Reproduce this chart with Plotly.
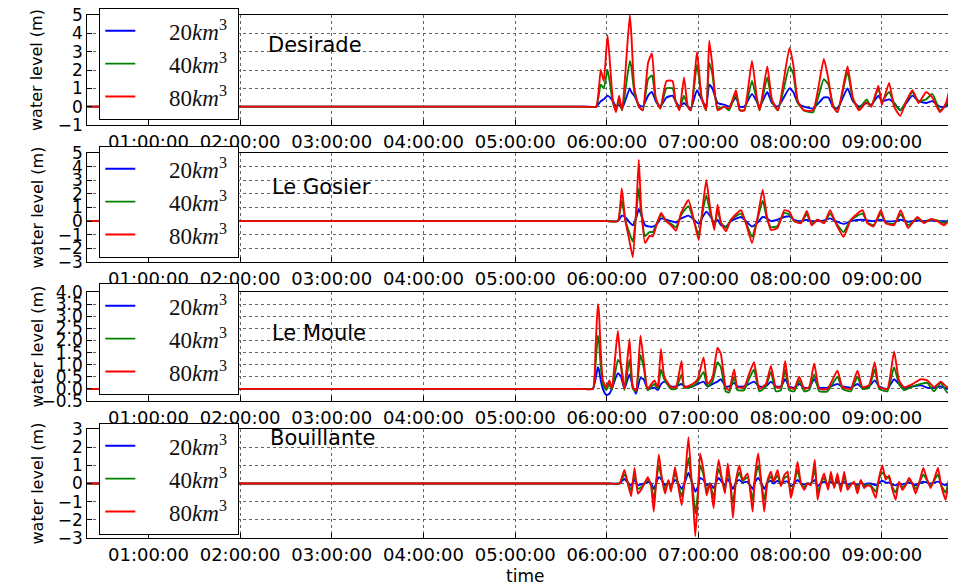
import plotly.graph_objects as go
import pandas as pd

# ---------------- data (time in minutes after 00:00, water level in m) ----------------
series_names = ["20<i>km</i><sup>3</sup>", "40<i>km</i><sup>3</sup>", "80<i>km</i><sup>3</sup>"]
panel_names = ["Desirade", "Le Gosier", "Le Moule", "Bouillante"]
hour_ticks = ["01:00:00", "02:00:00", "03:00:00", "04:00:00", "05:00:00",
              "06:00:00", "07:00:00", "08:00:00", "09:00:00"]

# Desirade
t1 = [0, 345, 353, 356, 358, 360.5, 364, 366, 368, 370, 375,
      376, 378, 381, 383.5, 387, 389.5, 392, 395, 399, 403,
      405, 407.5, 410.5, 413, 415, 419, 422, 425, 427, 429,
      432.5, 437, 440, 444.5, 447, 450, 455, 458, 460, 465,
      468, 472, 479.5, 482, 485, 489, 495, 502, 505, 508,
      511, 517.5, 521, 525, 530, 533, 537.7, 540, 544.7, 548,
      552, 556, 560, 564, 569, 573, 578, 582, 585, 589]
r1 = [0, 0, 0, 2.0, 1.4, 3.9, 0.3, -0.3, 0.6, -0.2, 5.0,
      4.0, 1.0, 0.0, -0.2, 2.4, 2.9, 0.5, -0.1, 1.4, 1.4,
      0.3, -0.2, 1.6, 0.0, -0.2, 3.0, 0.5, -0.2, 3.6, 2.3,
      -0.2, 0.0, -0.1, 0.9, -0.2, -0.2, 2.5, 0.6, -0.2, 2.2,
      0.4, -0.2, 3.2, 2.3, 0.3, -0.2, -0.2, 2.6, 1.5, 0.0,
      -0.3, 2.2, 0.5, -0.2, 0.25, 0.0, 1.15, 0.1, 1.3, 0.0,
      -0.5, 0.3, 0.9, 0.2, 0.8, 0.5, -0.3, 0.2, 1.1, 1.0]
g1 = [0, 0, 0, 1.2, 1.0, 2.0, 0.2, -0.2, 0.4, -0.2, 2.5,
      2.2, 0.8, 0.0, -0.2, 1.5, 1.7, 0.4, -0.1, 1.0, 1.0,
      0.3, -0.1, 0.6, 0.0, -0.2, 2.3, 0.5, -0.2, 2.4, 1.8,
      -0.1, 0.0, -0.2, 0.7, -0.2, -0.2, 1.4, 0.4, -0.2, 1.6,
      0.3, -0.2, 2.2, 1.8, 0.2, -0.2, -0.3, 1.5, 1.2, 0.1,
      -0.3, 1.9, 0.4, -0.1, 0.4, 0.0, 1.0, 0.3, 0.8, 0.2,
      -0.2, 0.3, 0.8, 0.3, 0.4, 0.7, -0.2, 0.1, 0.8, 0.8]
b1 = [0, 0, 0, 0.3, 0.4, 0.6, 0.3, 0.0, 0.1, -0.1, 1.0,
      0.8, 0.6, 0.1, 0.0, 0.6, 0.8, 0.3, 0.0, 0.5, 0.6,
      0.3, 0.0, 0.2, 0.0, -0.1, 0.9, 0.4, 0.0, 1.2, 1.0,
      0.2, 0.1, 0.0, 0.5, 0.0, 0.0, 0.7, 0.3, 0.0, 0.8,
      0.2, 0.0, 1.0, 0.8, 0.2, 0.0, -0.1, 0.5, 0.5, 0.0,
      -0.1, 1.0, 0.3, 0.0, 0.2, 0.1, 0.6, 0.3, 0.4, 0.2,
      -0.2, 0.2, 0.6, 0.3, 0.2, 0.3, 0.0, 0.0, 0.4, 0.5]

# Le Gosier
t2 = [0, 360, 367.2, 369.8, 372.0, 374.2, 377.0, 379.4, 380.9, 382.4, 385.0,
      387.9, 390.1, 392.9, 395.5, 398.8, 402.0, 405.3, 408.6, 413.4, 416.2,
      420.1, 422.7, 425.1, 427.5, 430.3, 432.5, 434.7, 438.0, 441.2, 447.8,
      451.0, 455.0, 458.7, 462.0, 464.8, 467.4, 471.7, 476.1, 479.4, 482.6,
      487.0, 490.9, 494.0, 497.9, 502.2, 506.1, 509.8, 514.9, 519.7, 527.3,
      530.5, 534.5, 539.3, 542.5, 548.0, 552.3, 557.1, 563.2, 567.6, 571.9,
      576.3, 580.6, 583.9, 588.9]
r2 = [0, 0, 0, 2.4, 0.1, -1.1, -2.65, 1.2, 4.5, 1.1, -1.6,
      -1.1, -1.1, -0.15, 0.6, 0.0, -0.3, -0.7, 0.6, 1.55, 0.45,
      -1.4, 1.05, 3.0, 1.05, -0.65, 1.2, -0.15, -0.75, 0.1, 0.8,
      -0.15, -1.6, 0.3, 2.3, 0.3, -0.65, -0.5, 0.8, 0.7, 0.0,
      -0.15, 0.75, -0.3, 0.1, -0.15, 0.8, -0.15, -1.15, 0.1, 0.8,
      -0.15, -0.4, 0.8, -0.15, -0.3, 0.8, -0.5, 0.3, -0.15, 0.15,
      0.0, -0.3, 0.0, -0.3]
g2 = [0, 0, 0, 1.5, 0.1, -0.7, -1.5, 0.8, 2.4, 0.7, -1.1,
      -0.8, -0.8, -0.1, 0.45, 0.0, -0.2, -0.45, 0.45, 1.1, 0.3,
      -1.0, 0.7, 1.9, 0.7, -0.4, 0.8, -0.1, -0.5, 0.1, 0.55,
      -0.1, -1.15, 0.2, 1.5, 0.2, -0.45, -0.35, 0.6, 0.5, 0.0,
      -0.1, 0.5, -0.2, 0.1, -0.1, 0.55, -0.1, -0.8, 0.1, 0.55,
      -0.1, -0.3, 0.55, -0.1, -0.2, 0.5, -0.3, 0.2, -0.1, 0.1,
      0.05, -0.15, 0.1, 0.0]
b2 = [0, 0, 0, 0.4, 0.3, 0.0, -0.3, 0.3, 0.9, 0.5, -0.3,
      -0.4, -0.4, -0.2, 0.2, 0.1, 0.0, -0.1, 0.2, 0.4, 0.2,
      -0.2, 0.3, 0.7, 0.4, -0.1, 0.1, -0.3, -0.4, 0.0, 0.3,
      0.0, -0.4, -0.1, 0.3, 0.2, 0.0, 0.1, 0.3, 0.35, 0.1,
      0.0, 0.1, 0.0, 0.0, 0.05, 0.2, 0.0, -0.2, 0.0, 0.1,
      0.05, 0.0, 0.1, 0.0, 0.0, 0.1, -0.05, 0.05, 0.0, 0.05,
      0.0, 0.0, 0.0, 0.0]

# Le Moule
t3 = [0, 344, 350.9, 352.6, 354.1, 354.8, 355.9, 357.4, 359.6, 361.7, 363.3,
      367.2, 369.3, 371.5, 374.8, 377.0, 379.1, 382.0, 384.1, 386.7, 391.1,
      393.3, 395.4, 397.6, 402.0, 405.2, 408.9, 410.7, 416.1, 419.4, 423.3,
      425.9, 429.1, 432.4, 434.6, 437.8, 440.0, 443.3, 445.4, 449.8, 453.0,
      456.3, 459.8, 464.1, 467.4, 470.6, 473.9, 476.7, 479.3, 482.6, 485.9,
      489.2, 492.4, 495.7, 499.0, 504.4, 510.9, 514.2, 519.6, 524.0, 527.3,
      531.6, 535.3, 538.2, 543.6, 548.0, 551.2, 554.5, 560.0, 565.4, 569.7,
      574.1, 578.5, 582.8, 587.2, 588.9]
r3 = [0, 0, 0, 1.7, 3.5, 3.2, 1.7, 0.35, 0.07, 0.35, 0.0,
      2.4, 0.9, 0.0, 2.05, 0.07, -0.07, 2.2, 1.15, 0.0, 0.35,
      0.07, 1.65, 0.5, 0.07, 0.07, 1.15, 0.07, 0.2, 0.4, 1.3,
      0.2, 0.45, 1.7, 1.45, 0.07, -0.05, 0.8, 0.07, 0.07, 0.6,
      1.1, 0.0, 0.2, 0.95, 0.07, 0.07, 1.15, 0.07, 0.0, 0.5,
      0.0, 0.07, 1.05, 0.0, 0.0, 0.75, 0.07, 0.0, 0.75, 0.07,
      0.15, 1.1, 0.07, 0.0, 1.55, 0.35, 0.07, 0.2, 0.4, 0.35,
      0.07, 0.3, 0.07, 0.35, 0.2]
g3 = [0, 0, 0, 1.0, 2.2, 2.0, 1.0, 0.2, -0.05, 0.2, -0.05,
      1.2, 1.0, -0.05, 1.2, 0.0, -0.1, 1.4, 0.9, -0.05, 0.2,
      0.0, 0.8, 0.4, 0.0, 0.0, 0.6, 0.05, 0.1, 0.3, 0.7,
      0.1, 0.3, 1.1, 0.9, -0.1, -0.15, 0.5, -0.05, -0.05, 0.4,
      0.8, -0.1, 0.1, 0.7, -0.1, -0.05, 0.8, -0.05, -0.1, 0.35,
      -0.1, -0.05, 0.6, -0.1, -0.1, 0.5, 0.0, -0.1, 0.5, 0.0,
      0.05, 0.8, 0.0, -0.1, 0.9, 0.2, -0.05, 0.1, 0.2, 0.25,
      -0.1, 0.25, -0.15, 0.1, 0.3]
b3 = [0, 0, 0, 0.4, 0.9, 0.8, 0.4, 0.0, -0.25, -0.2, 0.0,
      0.65, 0.5, 0.0, 0.6, 0.1, -0.2, 0.45, 0.4, 0.0, 0.05,
      -0.05, 0.2, 0.3, 0.1, 0.1, 0.2, 0.1, 0.1, 0.2, 0.3,
      0.1, 0.2, 0.3, 0.4, 0.1, 0.1, 0.25, 0.1, 0.1, 0.2,
      0.3, 0.1, 0.1, 0.3, 0.1, 0.1, 0.4, 0.1, 0.05, 0.2,
      0.05, 0.05, 0.4, 0.05, 0.05, 0.2, 0.1, 0.05, 0.2, 0.05,
      0.1, 0.35, 0.1, 0.0, 0.4, 0.2, 0.05, 0.1, 0.15, 0.05,
      0.05, 0.1, 0.0, 0.05, 0.1]

# Bouillante
t4 = [0, 361, 368.3, 371.5, 373.7, 375.9, 378.1, 380.3, 382.4, 384.6, 386.8,
      389.0, 390.7, 392.2, 394.0, 395.9, 398.1, 400.3, 402.0, 404.6, 406.8,
      409.0, 411.2, 413.4, 415.1, 416.8, 417.9, 419.5, 421.0, 423.2, 425.3,
      427.5, 429.9, 431.4, 433.2, 435.1, 437.3, 439.1, 440.8, 442.5, 444.5,
      446.7, 448.9, 452.1, 455.4, 456.9, 459.1, 461.3, 463.0, 465.2, 467.4,
      469.1, 471.7, 473.9, 476.1, 478.3, 480.4, 482.6, 484.8, 487.0, 489.2,
      491.3, 493.5, 496.1, 497.9, 500.0, 502.2, 504.8, 506.6, 508.8, 510.9,
      513.1, 515.3, 517.5, 519.6, 521.8, 524.0, 526.2, 528.4, 530.5, 532.7,
      536.0, 538.2, 540.3, 542.5, 544.7, 546.9, 549.0, 551.2, 553.4, 555.6,
      557.8, 559.9, 562.1, 564.3, 567.1, 569.7, 571.9, 574.1, 576.7, 578.9,
      581.7, 583.9, 586.1, 588.9]
r4 = [0, 0, 0, 0.75, 0, -0.7, 0.85, -0.55, -0.35, 0, 0.35,
      -0.15, -1.55, 0, 1.6, 0.35, -0.55, 0.2, -0.45, 0.9, -0.15,
      -1.2, 0.35, 2.55, 0.55, -1.45, -2.9, -0.9, 1.65, 0.75, -0.65,
      0, -1.35, 0.2, 1.3, 0.35, -0.55, 1.1, 0, -1.9, 0.2,
      1.0, 0.2, 0.55, -1.55, 0.35, 1.65, -0.15, -1.55, 0.2, 0.65,
      0.1, 0.75, -0.15, 0.45, 0.65, -0.8, 0, 1.2, 0, -0.35,
      0, -0.1, 1.3, -0.9, 0, 0.55, -0.35, 0.65, -0.25, 0.55,
      -0.45, 0.65, -0.35, -0.1, 0.1, -0.55, 0.2, -0.25, -0.1, -0.15,
      -0.8, 0.35, 1.0, 0.2, 0.45, -0.35, -0.9, 0.1, -0.35, -0.1,
      0.3, 0, -0.55, 0, 0.85, 0.2, -0.25, 0.2, 0.85, -0.15,
      -0.9, 0.2, 0.65, 0.1]
g4 = [0, 0, 0, 0.5, 0.1, -0.4, 0.5, -0.3, -0.2, 0.0, 0.25,
      -0.1, -0.9, 0.0, 1.0, 0.3, -0.35, 0.15, -0.3, 0.6, -0.1,
      -0.7, 0.2, 1.4, 0.4, -0.8, -1.65, -0.6, 1.0, 0.5, -0.4,
      0.0, -0.8, 0.1, 0.8, 0.3, -0.35, 0.7, 0.0, -1.1, 0.1,
      0.6, 0.15, 0.35, -0.9, 0.2, 1.0, -0.1, -0.9, 0.1, 0.4,
      0.1, 0.45, -0.1, 0.3, 0.4, -0.5, 0.0, 0.75, 0.0, -0.2,
      0.0, -0.05, 0.8, -0.5, 0.0, 0.3, -0.2, 0.4, -0.15, 0.3,
      -0.25, 0.4, -0.2, -0.05, 0.05, -0.3, 0.15, -0.15, -0.05, -0.1,
      -0.45, 0.25, 0.6, 0.4, 0.3, -0.2, -0.5, 0.05, -0.2, -0.05,
      0.2, 0.0, -0.3, 0.0, 0.5, 0.15, -0.15, 0.15, 0.5, -0.1,
      -0.5, 0.15, 0.4, 0.4]
b4 = [0, 0, 0, 0.25, 0.05, -0.1, 0.2, -0.1, -0.05, 0.0, 0.1,
      0.0, -0.3, 0.0, 0.35, 0.2, -0.1, 0.05, -0.15, 0.2, 0.0,
      -0.3, 0.1, 0.6, 0.2, -0.2, -0.45, -0.2, 0.3, 0.2, -0.1,
      0.0, -0.25, 0.05, 0.3, 0.1, -0.1, 0.25, 0.0, -0.3, 0.05,
      0.2, 0.05, 0.1, -0.3, 0.05, 0.3, 0.0, -0.3, 0.05, 0.15,
      0.0, 0.15, 0.0, 0.1, 0.1, -0.15, 0.0, 0.2, 0.0, -0.05,
      0.0, 0.0, 0.2, -0.15, 0.0, 0.1, -0.05, 0.1, -0.05, 0.1,
      -0.05, 0.1, -0.05, 0.0, 0.0, -0.1, 0.05, -0.05, 0.0, 0.0,
      -0.1, 0.05, 0.15, 0.05, 0.05, -0.05, -0.1, 0.0, -0.05, 0.0,
      0.05, 0.0, -0.1, 0.0, 0.1, 0.05, 0.0, 0.05, 0.1, 0.0,
      -0.1, 0.0, 0.05, 0.0]

y_ranges = [[-1, 5], [-3, 5], [-0.5, 4.0], [-3, 3]]
y_dticks = [1, 1, 0.5, 1]
y_formats = ["d", "d", ".1f", "d"]
x_start_min = 20
x_end_min = 588.5

# ---------------- figure ----------------
W, H = 956, 587
OFF = 8  # page body margin in the browser: page px = figure px + OFF
colors = ["#0000ff", "#008000", "#ff0000"]
base = pd.Timestamp("2000-01-01")


def to_time(mins):
    return [base + pd.Timedelta(minutes=m) for m in mins]


def px_x(p):
    return (p - OFF) / W


def px_y(p):
    return 1 - (p - OFF) / H


panels = [(t1, [b1, g1, r1]), (t2, [b2, g2, r2]), (t3, [b3, g3, r3]), (t4, [b4, g4, r4])]
for t, ss in panels:
    for s in ss:
        assert len(t) == len(s), (len(t), len(s))

panel_px = [(15, 125), (153, 262), (292, 401), (429, 538)]
legend_top_px = [8, 146, 283, 423]
name_pos = [(266, 45), (270, 187), (270, 333), (268, 438)]
x_left_px = 87.3
x_right_px = 956

fig = go.Figure()
for i, (t, ss) in enumerate(panels):
    n = i + 1
    sfx = "" if n == 1 else str(n)
    times = to_time(t)
    for j, s in enumerate(ss):
        fig.add_trace(go.Scatter(
            x=times, y=s, mode="lines",
            name="&nbsp;" * 5 + series_names[j] + "&nbsp;",
            line=dict(color=colors[j], width=1.9, shape="spline", smoothing=0.45),
            xaxis="x" + sfx, yaxis="y" + sfx,
            legend="legend" + sfx, legendgroup=f"p{n}s{j}",
            showlegend=True,
        ))

layout = dict(
    width=W, height=H,
    margin=dict(l=0, r=0, t=0, b=0, autoexpand=False),
    paper_bgcolor="white", plot_bgcolor="white",
    font=dict(family="DejaVu Sans", color="black"),
    showlegend=True,
)

tickvals = to_time([60 * (k + 1) for k in range(len(hour_ticks))])
annotations = []
for i in range(4):
    n = i + 1
    sfx = "" if n == 1 else str(n)
    top, bot = panel_px[i]
    ydom = [px_y(bot), px_y(top)]
    layout["xaxis" + sfx] = dict(
        domain=[px_x(x_left_px), px_x(x_right_px)], anchor="y" + sfx, automargin=False,
        type="date", range=to_time([x_start_min, x_end_min]),
        tickvals=tickvals, ticktext=hour_ticks, ticklabeloverflow="allow",
        tickfont=dict(size=18, family="DejaVu Sans"),
        ticks="inside", ticklen=5, tickcolor="black",
        showline=True, linecolor="black", linewidth=1.3, mirror=True,
        showgrid=True, gridcolor="#666666", griddash="dot", gridwidth=1,
        zeroline=False,
    )
    layout["yaxis" + sfx] = dict(
        domain=ydom, anchor="x" + sfx, range=y_ranges[i], dtick=y_dticks[i],
        tick0=y_ranges[i][0], tickformat=y_formats[i], automargin=False,
        ticklabeloverflow="allow",
        tickfont=dict(size=17, family="DejaVu Sans"),
        ticks="inside", ticklen=5, tickcolor="black",
        showline=True, linecolor="black", linewidth=1.3, mirror=False,
        showgrid=True, gridcolor="#666666", griddash="dot", gridwidth=1,
        zeroline=False,
    )
    layout["legend" + sfx] = dict(
        x=px_x(99), y=px_y(legend_top_px[i]), xanchor="left", yanchor="top",
        bgcolor="white", bordercolor="black", borderwidth=1.3,
        font=dict(family="Liberation Serif", size=23, color="#111111"),
        tracegroupgap=0, itemwidth=30,
    )
    annotations.append(dict(
        text=panel_names[i], x=px_x(name_pos[i][0]), y=px_y(name_pos[i][1]),
        xref="paper", yref="paper", xanchor="left", yanchor="middle",
        showarrow=False, font=dict(size=21, family="DejaVu Sans", color="black"),
    ))
    annotations.append(dict(
        text="water level (m)", x=px_x(37), y=px_y((top + bot) / 2),
        xref="paper", yref="paper", xanchor="center", yanchor="middle",
        textangle=-90, showarrow=False,
        font=dict(size=16, family="DejaVu Sans", color="black"),
    ))

annotations.append(dict(
    text="time", x=px_x(525), y=px_y(576), xref="paper", yref="paper",
    xanchor="center", yanchor="middle", showarrow=False,
    font=dict(size=17, family="DejaVu Sans", color="black"),
))
layout["annotations"] = annotations
fig.update_layout(**layout)
fig.write_html("out.html")
